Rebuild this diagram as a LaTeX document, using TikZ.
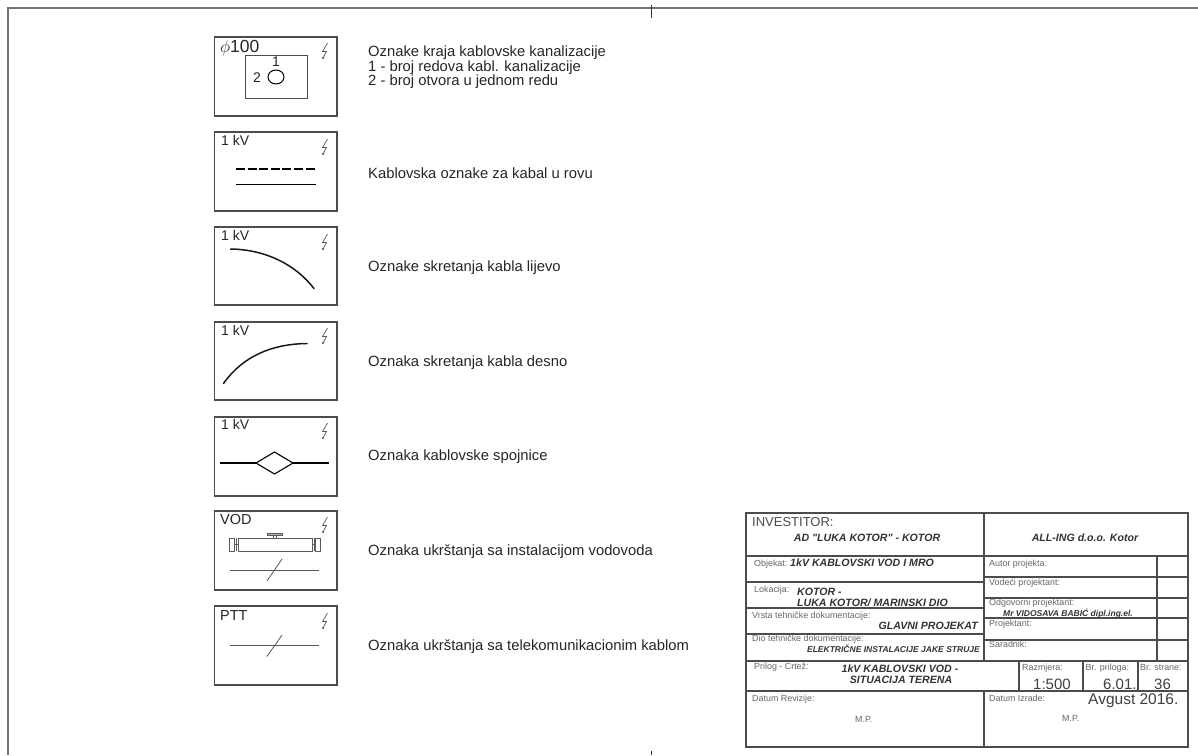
\documentclass[tikz,border=0pt]{standalone}
\usepackage{fontspec}
\setmainfont{Liberation Sans}
\newfontfamily\plainfam{Liberation Sans}
\tikzset{
 symbox/.style={draw=black!70,line width=1.1pt},
 sline/.style={draw=black,line width=1.1pt},
 curveline/.style={draw=black!90,line width=1.5pt,line cap=round},
 thin line/.style={draw=black!65,line width=.8pt},
 frameline/.style={draw=black!70,line width=1.1pt},
 lab/.style={anchor=west,inner sep=0pt,font=\fontsize{14.8}{14.5}\selectfont,text=black!85,align=left},
 head/.style={anchor=base west,inner sep=0pt,font=\fontsize{14}{16}\selectfont,text=black!85},
 small/.style={anchor=base west,inner sep=0pt,font=\fontsize{8.9}{11}\selectfont,text=black!60},
 bi/.style={anchor=base,inner sep=0pt,font=\fontsize{10.6}{12}\selectfont\bfseries\itshape,text=black!80,align=center},
 big/.style={anchor=base west,inner sep=0pt,font=\fontsize{15}{17}\selectfont,text=black!75},
}
\newcommand{\bolt}[2]{\draw[black!65,line width=.7pt] (#1+3.5,#2-8) -- (#1-1.5,#2+.5) -- (#1+2.5,#2+.5) -- (#1-1,#2+7);\fill[black!70] (#1-1,#2+7) circle (1.1);}
\begin{document}
\begin{tikzpicture}[x=1pt,y=-1pt]
\useasboundingbox[fill=white] (0,0) rectangle (1198,755);
% sheet frame and registration ticks
\draw[black!55,line width=1.3pt] (8,755) -- (8,8) -- (1198,8);
\draw[black!80,line width=.8pt] (651,5) -- (651,18);
\draw[black!80,line width=.8pt] (651,751) -- (651,755);
% symbol boxes
\foreach \a/\b in {37/116,132/211,227/305,322/400,417/496,511/590,606/685}
 \draw[symbox] (214.5,\a) rectangle (337,\b);
\bolt{324}{51}\bolt{324}{147}\bolt{324}{242}\bolt{324}{336}\bolt{324}{431}\bolt{324}{525}\bolt{324}{621}
% box 1
\node[head,font=\fontsize{17.5}{19}\selectfont] (t1) at (220,52) {$\phi$100};
\draw[symbox,line width=.9pt] (245,55) rectangle (307,98);
\draw[black,line width=1pt] (276,77) ellipse (8 and 7);
\node[head,anchor=base] (n1) at (276,66) {1};
\node[head] (n2) at (253,82) {2};
% box 2
\node[head] (t2) at (221,145) {1 kV};
\draw[sline,dash pattern=on 9pt off 2.6pt] (236,169) -- (316,169);
\draw[sline] (236,184.5) -- (316,184.5);
% box 3
\node[head] (t3) at (221,240) {1 kV};
\draw[curveline] (230.5,249) .. controls (265,249.5) and (295,264) .. (314,288.5);
% box 4
\node[head] (t4) at (221,335) {1 kV};
\draw[curveline] (223.5,383.5) .. controls (243,356) and (272,344) .. (307,343.5);
% box 5
\node[head] (t5) at (221,429) {1 kV};
\draw[sline] (220,463) -- (256,463);
\draw[sline] (293,463) -- (329,463);
\draw[sline] (256,463) -- (274.5,452) -- (293,463) -- (274.5,474) -- cycle;
% box 6
\node[head,font=\fontsize{14.5}{16}\selectfont] (t6) at (220,524) {VOD};
\draw[thin line] (238,538) rectangle (312,551);
\draw[thin line] (229.5,538) rectangle (234,551);
\draw[thin line] (315.5,538) rectangle (320,551);
\draw[thin line] (236,538) -- (236,551);
\draw[thin line] (314,538) -- (314,551);
\draw[thin line] (234,544.5) -- (238,544.5);
\draw[thin line] (312,544.5) -- (315.5,544.5);
\draw[thin line] (273.5,535.5) -- (273.5,538);
\draw[thin line] (276,535.5) -- (276,538);
\draw[thin line,fill=black!30] (267,533) rectangle (282,535.5);
\draw[thin line] (229.5,570) -- (319,570);
\draw[thin line] (267,581) -- (282,559);
% box 7
\node[head,font=\fontsize{14.5}{16}\selectfont] (t7) at (220,620) {PTT};
\draw[thin line] (229.5,645.5) -- (319,645.5);
\draw[thin line] (267,656.5) -- (282,635);
% legend labels
\node[lab] (l1) at (368,67.5) {Oznake kraja kablovske kanalizacije\\1 - broj redova kabl. kanalizacije\\2 - broj otvora u jednom redu};
\node[lab] (l2) at (368,173) {Kablovska oznake za kabal u rovu};
\node[lab] (l3) at (368,268) {Oznake skretanja kabla lijevo};
\node[lab] (l4) at (368,363) {Oznaka skretanja kabla desno};
\node[lab] (l5) at (368,457) {Oznaka kablovske spojnice};
\node[lab] (l6) at (368,552) {Oznaka ukrštanja sa instalacijom vodovoda};
\node[lab] (l7) at (368,647) {Oznaka ukrštanja sa telekomunikacionim kablom};
% title block
\draw[frameline,line width=1.3pt] (746,513) rectangle (1188,747);
\draw[frameline] (984,513) -- (984,662);
\draw[frameline] (984,691) -- (984,747);
\draw[frameline] (746,556) -- (1188,556);
\draw[frameline] (746,582) -- (984,582);
\draw[frameline] (746,608) -- (984,608);
\draw[frameline] (746,634) -- (984,634);
\draw[frameline] (746,661) -- (1188,661);
\draw[frameline] (746,691) -- (1188,691);
\draw[frameline] (984,577) -- (1188,577);
\draw[frameline] (984,598) -- (1188,598);
\draw[frameline] (984,618) -- (1188,618);
\draw[frameline] (984,640) -- (1188,640);
\draw[frameline] (1157,556) -- (1157,661);
\draw[frameline] (1019,661) -- (1019,691);
\draw[frameline] (1083,661) -- (1083,691);
\draw[frameline] (1138,661) -- (1138,691);
\node[head,font=\fontsize{13}{15}\selectfont,text=black!70] (inv) at (752,526) {INVESTITOR:};
\node[bi] (inv2) at (867,541) {\plainfam\bfseries\itshape AD "LUKA KOTOR" - KOTOR};
\node[bi] (all) at (1085,541) {ALL-ING d.o.o. Kotor};
\node[small] (ob) at (754,566) {Objekat:};
\node[bi,anchor=base west] (ob2) at (790,566) {1kV KABLOVSKI VOD I MRO};
\node[small] (lo) at (754,592) {Lokacija:};
\node[bi,anchor=base west] (lo2) at (797,595) {KOTOR -};
\node[bi,anchor=base west] (lo3) at (797,606) {LUKA KOTOR/ MARINSKI DIO};
\node[small] (vr) at (752,618) {Vrsta tehničke dokumentacije:};
\node[bi,anchor=base east] (vr2) at (978,629) {GLAVNI PROJEKAT};
\node[small] (di) at (752,641.5) {Dio tehničke dokumentacije:};
\node[bi,anchor=base east,font=\fontsize{8.5}{10}\selectfont\bfseries\itshape] (di2) at (980,652) {ELEKTRIČNE INSTALACIJE JAKE STRUJE};
\node[small] (a1) at (989,566) {Autor projekta:};
\node[small] (a2) at (989,585) {Vodeći projektant:};
\node[small] (a3) at (989,605.5) {Odgovorni projektant:};
\node[bi,anchor=base west,font=\fontsize{8.5}{10}\selectfont\bfseries\itshape] (a4) at (1003,616) {Mr VIDOSAVA BABIĆ dipl.ing.el.};
\node[small] (a5) at (989,626) {Projektant:};
\node[small] (a6) at (989,647) {Saradnik:};
\node[small] (pr) at (754,669.5) {Prilog - Crtež:};
\node[bi] (pr2) at (900,672) {1kV KABLOVSKI VOD -};
\node[bi] (pr3) at (901,683) {SITUACIJA TERENA};
\node[small] (ra) at (1022,670) {Razmjera:};
\node[big] (ra2) at (1033,689) {1:500};
\node[small] (br) at (1085.5,670) {Br. priloga:};
\node[big] (br2) at (1103,689) {6.01.};
\node[small] (bs) at (1140,670) {Br. strane:};
\node[big] (bs2) at (1154,689) {36};
\node[small] (dr) at (752,701) {Datum Revizije:};
\node[small] (di3) at (989,701) {Datum Izrade:};
\node[big,font=\fontsize{15.5}{17}\selectfont] (av) at (1088,704) {Avgust 2016.};
\node[small] (mp1) at (855,722) {M.P.};
\node[small] (mp2) at (1062,721) {M.P.};
\end{tikzpicture}
\end{document}
